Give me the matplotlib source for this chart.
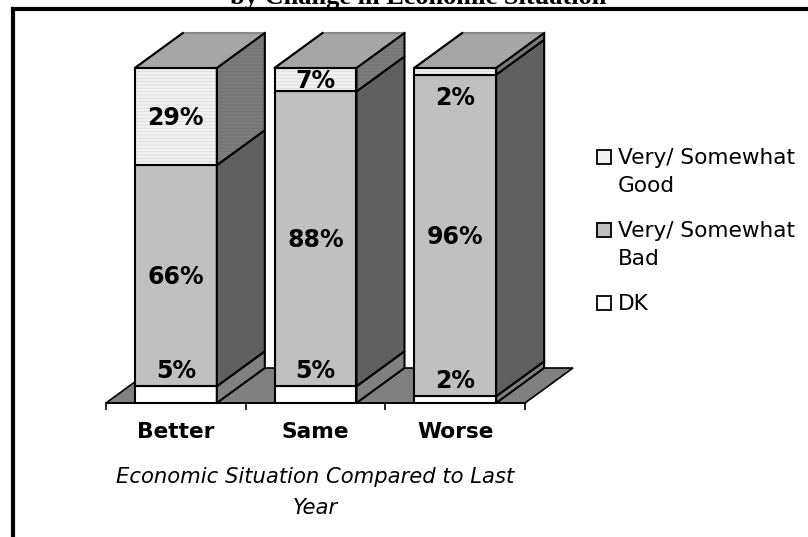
import matplotlib
matplotlib.use('Agg')
import matplotlib.pyplot as plt
from matplotlib.patches import Polygon, Rectangle
from matplotlib.lines import Line2D

categories = ['Better', 'Same', 'Worse']
dk = [5, 5, 2]
bad = [66, 88, 96]
good = [29, 7, 2]

series_names = ['Very/ Somewhat\nGood', 'Very/ Somewhat\nBad', 'DK']
x_title = 'Economic Situation Compared to Last\nYear'
title = 'by Change in Economic Situation'

W, H = 808, 537
plt.rcParams['font.family'] = 'DejaVu Sans'
plt.rcParams['hatch.linewidth'] = 0.4

GOOD_FRONT = '#f1f1f1'
GOOD_SIDE = '#7c7c7c'
BAD_FRONT = '#c0c0c0'
BAD_SIDE = '#606060'
DK_FRONT = '#ffffff'
DK_SIDE = '#808080'
TOP_FACE = '#a6a6a6'
FLOOR = '#808080'

fig = plt.figure(figsize=(W / 100, H / 100), dpi=100)
# plot box runs from the first to the last tick, 0-100 on the value axis
ax = fig.add_axes([106 / W, 1 - 403 / H, (525 - 106) / W, (403 - 68) / H])
ax.set_xlim(0, 3)
ax.set_ylim(0, 100)
ax.patch.set_visible(False)

depth_x = 48 / (419 / 3)
depth_y = 35 / 3.35
bar_width = 0.587


def addPoly(points, color, edge='black', lw=1.5, z=2, hatch=None):
    poly = Polygon(points, closed=True, facecolor=color, edgecolor=edge, linewidth=lw,
                   zorder=z, clip_on=False, hatch=hatch, joinstyle='miter')
    ax.add_patch(poly)


def drawSegment(left, low, high, front, side, z, hatch=None):
    right = left + bar_width
    front_pts = [(left, low), (right, low), (right, high), (left, high)]
    side_pts = [(right, low), (right + depth_x, low + depth_y), (right + depth_x, high + depth_y), (right, high)]
    if hatch is not None:
        addPoly(front_pts, front, edge='#d4d4d4', lw=0, z=z, hatch=hatch)
        addPoly(side_pts, side, edge='#6c6c6c', lw=0, z=z, hatch=hatch)
        addPoly(front_pts, 'none', z=z)
        addPoly(side_pts, 'none', z=z)
    else:
        addPoly(front_pts, front, z=z)
        addPoly(side_pts, side, z=z)


# floor under the bars
addPoly([(0, 0), (3, 0), (3 + depth_x, depth_y), (depth_x, depth_y)], FLOOR, lw=1.2, z=1)

label_style = dict(ha='center', va='center', fontsize=17, fontweight='bold', zorder=10,
                   textcoords='offset pixels')

for i in range(len(categories)):
    left = i + 0.5 - bar_width / 2
    right = left + bar_width
    z = 3 + i
    drawSegment(left, 0, dk[i], DK_FRONT, DK_SIDE, z)
    drawSegment(left, dk[i], dk[i] + bad[i], BAD_FRONT, BAD_SIDE, z)
    drawSegment(left, dk[i] + bad[i], 100, GOOD_FRONT, GOOD_SIDE, z, hatch='-----')
    # top face, back edge is lighter than the rest
    addPoly([(left, 100), (right, 100), (right + depth_x, 100 + depth_y), (left + depth_x, 100 + depth_y)],
            TOP_FACE, edge='#8a8a8a', z=z)
    ax.add_line(Line2D([left + depth_x, left, right, right + depth_x],
                       [100 + depth_y, 100, 100, 100 + depth_y], color='black', lw=1.5, zorder=z, clip_on=False))

    # value labels: small segments get pushed onto the grey part
    ax.annotate('%d%%' % dk[i], (i + 0.5, dk[i]), xytext=(0, 15), **label_style)
    ax.annotate('%d%%' % bad[i], (i + 0.5, dk[i] + bad[i] / 2), xytext=(0, -1), **label_style)
    if good[i] < 5:
        ax.annotate('%d%%' % good[i], (i + 0.5, 100 - good[i]), xytext=(0, -23), **label_style)
    else:
        ax.annotate('%d%%' % good[i], (i + 0.5, 100 - good[i] / 2), xytext=(0, -1), **label_style)

for side in ['top', 'left', 'right']:
    ax.spines[side].set_visible(False)
ax.spines['bottom'].set_linewidth(1.2)
ax.set_yticks([])
ax.set_xticks(range(len(categories) + 1))
ax.set_xticklabels([])
ax.tick_params(axis='x', which='major', length=5, width=1.2)
ax.set_xticks([i + 0.5 for i in range(len(categories))], minor=True)
ax.set_xticklabels(categories, minor=True, fontsize=15.7, fontweight='bold')
ax.tick_params(axis='x', which='minor', length=0, pad=14)
ax.set_xlabel(x_title, fontsize=15.2, style='italic', labelpad=17.5, linespacing=1.7)

# legend swatches and wrapped labels
swatches = [GOOD_FRONT, BAD_FRONT, DK_FRONT]
legend_y = [157, 230, 303]
for name, color, y in zip(series_names, swatches, legend_y):
    fig.add_artist(Rectangle((597 / W, 1 - (y + 7) / H), 14 / W, 14 / H, facecolor=color, edgecolor='black',
                             linewidth=1.3, transform=fig.transFigure))
    fig.text(618 / W, 1 - (y - 9) / H, name, fontsize=15.6, va='top', ha='left', linespacing=1.5)

# outer frame has only left and top sides
fig.add_artist(Line2D([13 / W, 13 / W], [0, 1 - 9 / H], color='black', lw=3, solid_capstyle='projecting'))
fig.add_artist(Line2D([13 / W, 1], [1 - 9 / H, 1 - 9 / H], color='black', lw=3))

fig.text(418 / W, 1 - 4 / H, title, family='Liberation Serif', fontweight='bold', fontsize=19, ha='center', va='baseline')

fig.savefig('out.png', dpi=100)
